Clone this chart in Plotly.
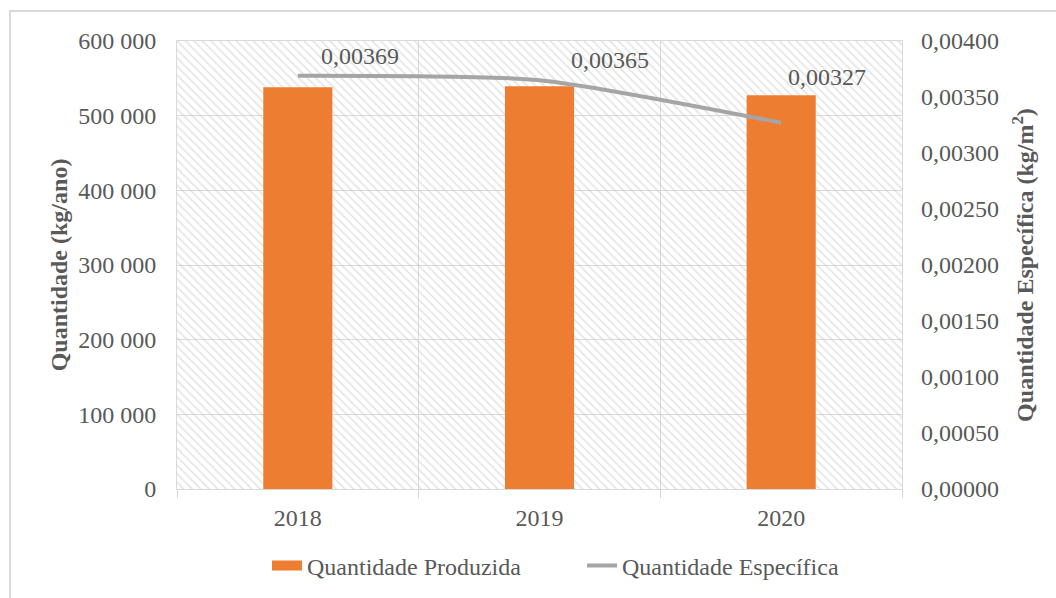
import plotly.graph_objects as go

# Data
anos = ["2018", "2019", "2020"]
quantidade_produzida = [538000, 539500, 527500]      # kg/ano
quantidade_especifica = [0.00369, 0.00365, 0.00327]  # kg/m²

# Label offsets (px) for the line's data labels
label_dx = [62, 70, 46]
label_dy = [20, 20, 46]

FONT = "Liberation Serif, Times New Roman, serif"
TXT = "#595959"
GRID = "#d9d9d9"
ORANGE = "#ED7D31"
GRAY = "#A5A5A5"

fig = go.Figure()

# Hatched plot-area background: one wide bar on a hidden 0..1 axis
fig.add_trace(go.Bar(
    x=[anos[1]], y=[1], width=[len(anos)], xaxis="x", yaxis="y",
    marker=dict(color="rgba(0,0,0,0)", line=dict(width=0),
                pattern=dict(shape="\\", size=6, solidity=0.3,
                             fgcolor="#cccccc", bgcolor="rgba(0,0,0,0)")),
    showlegend=False, hoverinfo="skip",
))

fig.add_trace(go.Bar(
    x=anos, y=quantidade_produzida, name="Quantidade Produzida",
    xaxis="x", yaxis="y2", width=0.286, showlegend=False,
    marker=dict(color=ORANGE, line=dict(width=0)),
))

fig.add_trace(go.Scatter(
    x=anos, y=quantidade_especifica, name="Quantidade Específica",
    xaxis="x", yaxis="y3", mode="lines", showlegend=False,
    line=dict(color=GRAY, width=4, shape="spline", smoothing=0.6),
))

# Legend entries: wide swatch for the bars, line for the series
fig.add_trace(go.Scatter(
    x=[None], y=[None], xaxis="x", yaxis="y2", mode="lines",
    name="Quantidade Produzida", line=dict(color=ORANGE, width=11),
    hoverinfo="skip",
))
fig.add_trace(go.Scatter(
    x=[None], y=[None], xaxis="x", yaxis="y3", mode="lines",
    name="Quantidade Específica", line=dict(color=GRAY, width=4),
    hoverinfo="skip",
))

for i, (v, dx, dy) in enumerate(zip(quantidade_especifica, label_dx, label_dy)):
    fig.add_annotation(
        x=i, y=v, xref="x", yref="y3",
        text=f"{v:.5f}".replace(".", ","), showarrow=False,
        xanchor="center", yanchor="middle", xshift=dx, yshift=dy,
        font=dict(family=FONT, size=24, color=TXT),
    )

# Outer chart border
fig.add_shape(type="rect", xref="paper", yref="paper",
              x0=(10 - 177) / 725, x1=1.4, y0=-0.4, y1=(489 - 11) / 448,
              line=dict(color=GRID, width=2), fillcolor="rgba(0,0,0,0)",
              layer="below")

fig.update_layout(
    width=1056, height=598,
    margin=dict(l=177, r=154, t=41, b=109, autoexpand=False),
    paper_bgcolor="white", plot_bgcolor="white",
    separators=", ",
    font=dict(family=FONT, size=24, color=TXT),
    showlegend=True,
    legend=dict(orientation="h", x=(267 - 177) / 725, xanchor="left",
                y=(489 - 566) / 448, yanchor="middle",
                font=dict(family=FONT, size=24, color=TXT),
                entrywidth=270, tracegroupgap=0),
    xaxis=dict(
        type="category", categoryorder="array", categoryarray=anos,
        range=[-0.5, 2.5], automargin=False,
        tickson="boundaries", showgrid=True, gridcolor=GRID, gridwidth=1,
        ticks="outside", ticklen=8, tickcolor=GRID, tickwidth=1,
        showline=True, linecolor=GRID, linewidth=1, mirror=True,
        tickfont=dict(family=FONT, size=24, color=TXT),
        ticklabelstandoff=7,
    ),
    yaxis=dict(range=[0, 1], visible=False, fixedrange=True, automargin=False),
    yaxis2=dict(
        overlaying="y", anchor="x", side="left", automargin=False,
        range=[0, 600000], dtick=100000, tickformat=",d",
        showgrid=True, gridcolor=GRID, gridwidth=1,
        showline=True, linecolor=GRID, linewidth=1, mirror=True,
        zeroline=False,
        tickfont=dict(family=FONT, size=24, color=TXT),
        ticklabelstandoff=15,
        title=dict(text="<b>Quantidade (kg/ano)</b>",
                   font=dict(family=FONT, size=24, color=TXT), standoff=3),
    ),
    yaxis3=dict(
        overlaying="y", anchor="x", side="right", automargin=False,
        range=[0, 0.004], dtick=0.0005, tickformat=".5f",
        showgrid=False, zeroline=False, showline=False,
        tickfont=dict(family=FONT, size=24, color=TXT),
        ticklabelstandoff=18,
        title=dict(text="<b>Quantidade Específica (kg/m<sup>2</sup>)</b>",
                   font=dict(family=FONT, size=24, color=TXT), standoff=18),
    ),
)

fig.write_html("out.html")
